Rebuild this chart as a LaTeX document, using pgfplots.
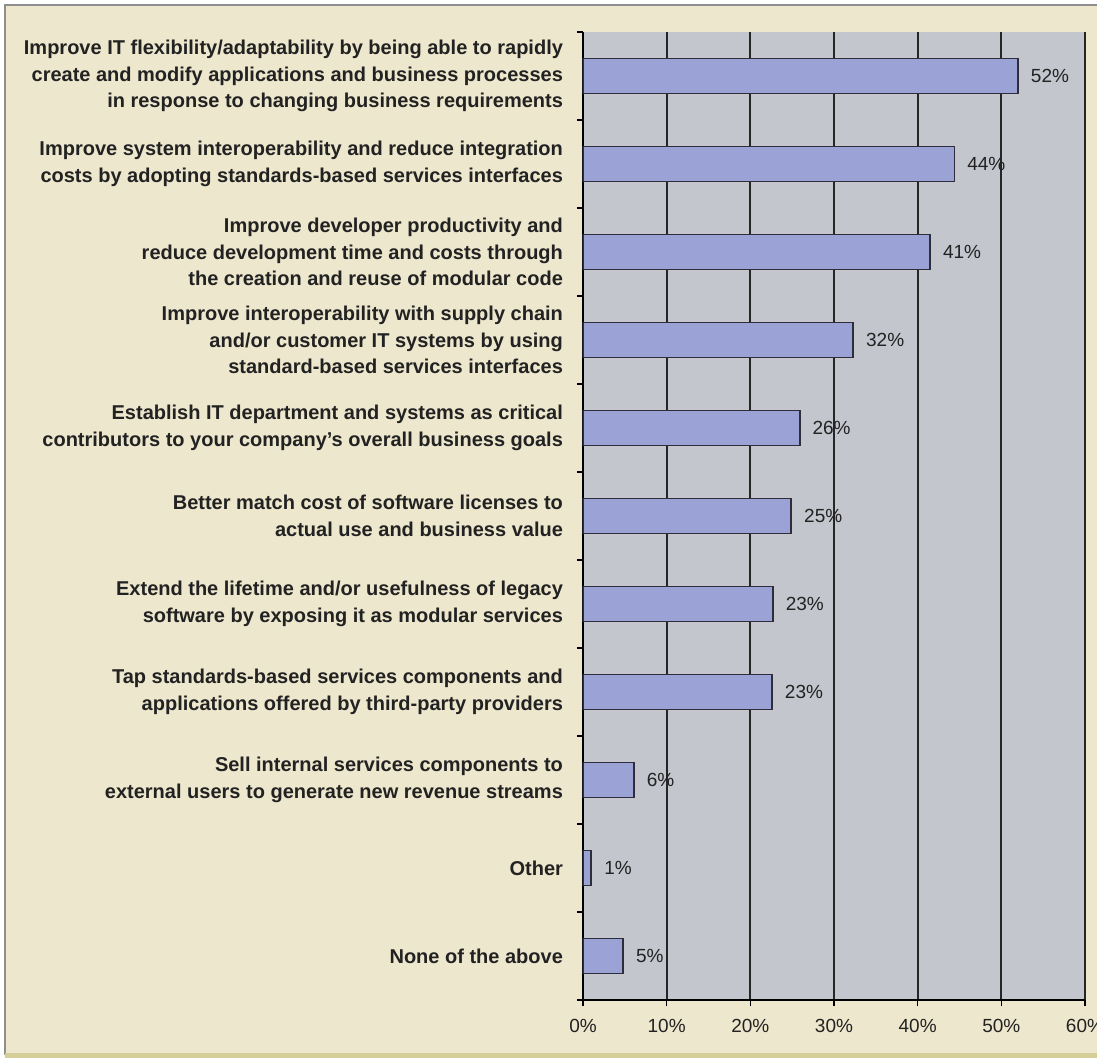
\documentclass[border=0pt]{standalone}
\usepackage{pgfplots}
\pgfplotsset{compat=1.18}
\usepackage{fontspec}
\setmainfont{Liberation Sans}

\definecolor{cream}{HTML}{EDE7CD}
\definecolor{plotbg}{HTML}{C3C6CD}
\definecolor{barfill}{HTML}{9BA3D6}
\definecolor{bardraw}{HTML}{2E2E3A}
\definecolor{framegray}{HTML}{8E8E8E}
\definecolor{frameyel}{HTML}{D6CE98}
\definecolor{txt}{HTML}{222222}

\begin{document}
\begin{tikzpicture}[x=1pt,y=1pt]
% page frame, relative to the axis origin (lower left corner of the plot area)
\fill[white] (-291.5,-31.5) rectangle (257,500);
\fill[cream] (-289,-27.5) rectangle (260,497.5);
\draw[framegray, line width=1pt] (-289,-27.5) -- (-289,497.5) -- (260,497.5);
\draw[frameyel, line width=2.5pt] (-289,-28) -- (260,-28);
\begin{axis}[
    scale only axis, width=251pt, height=484pt,
    axis background/.style={fill=plotbg},
    xmin=0, xmax=60, ymin=-0.5, ymax=10.5,
    y dir=reverse,
    axis x line*=bottom, axis y line*=left,
    axis line style={black, line width=0.9pt},
    xtick={0,10,...,60},
    xticklabels={0\%,10\%,20\%,30\%,40\%,50\%,60\%},
    xmajorgrids,
    grid style={black!85, line width=1pt},
    tick align=outside,
    major tick length=3pt,
    minor tick length=3pt,
    tick style={black, line width=0.8pt},
    ytick={0,...,10},
    minor ytick={-0.5,0.5,...,10.5},
    major y tick style={draw=none},
    yticklabels={
      {Improve IT flexibility/adaptability by being able to rapidly\\create and modify applications and business processes\\in response to changing business requirements},
      {Improve system interoperability and reduce integration\\costs by adopting standards-based services interfaces},
      {Improve developer productivity and\\reduce development time and costs through\\the creation and reuse of modular code},
      {Improve interoperability with supply chain\\and/or customer IT systems by using\\standard-based services interfaces},
      {Establish IT department and systems as critical\\contributors to your company's overall business goals},
      {Better match cost of software licenses to\\actual use and business value},
      {Extend the lifetime and/or usefulness of legacy\\software by exposing it as modular services},
      {Tap standards-based services components and\\applications offered by third-party providers},
      {Sell internal services components to\\external users to generate new revenue streams},
      {Other},
      {None of the above}},
    yticklabel style={font=\bfseries\fontsize{10}{13.3}\selectfont, align=right, text=txt, xshift=-3.5pt},
    xticklabel style={font=\fontsize{9.5}{11}\selectfont, text=txt, yshift=-3pt},
]
\addplot[xbar, fill=barfill, draw=bardraw, line width=0.9pt, bar width=17.5pt,
    nodes near coords, point meta=explicit symbolic,
    every node near coord/.append style={anchor=west, inner sep=0pt, xshift=6pt,
      font=\fontsize{9.5}{11}\selectfont, text=txt}]
coordinates {
  (52.0,0) [52\%]
  (44.4,1) [44\%]
  (41.5,2) [41\%]
  (32.3,3) [32\%]
  (25.9,4) [26\%]
  (24.9,5) [25\%]
  (22.7,6) [23\%]
  (22.6,7) [23\%]
  (6.1,8) [6\%]
  (1.0,9) [1\%]
  (4.8,10) [5\%]
};
\end{axis}
\pgfresetboundingbox
\useasboundingbox (-291.5,-31.5) rectangle (257,500);
\end{tikzpicture}
\end{document}
